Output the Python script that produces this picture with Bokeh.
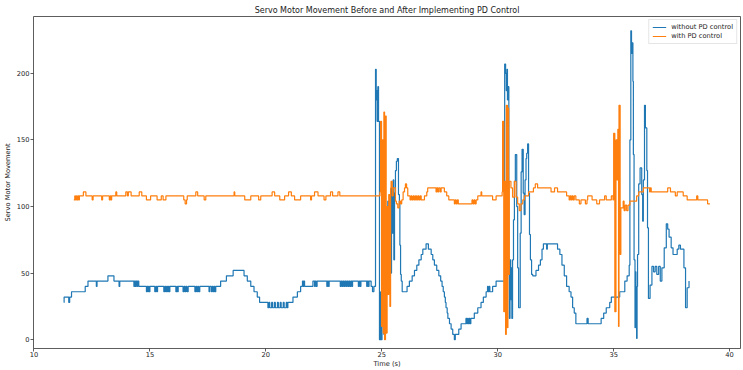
from bokeh.plotting import figure
from bokeh.models import Range1d, FixedTicker
from bokeh.embed import file_html
from bokeh.resources import INLINE

title_text = "Servo Motor Movement Before and After Implementing PD Control"
x_label = "Time (s)"
y_label = "Servo Motor Movement"
series_names = ["without PD control", "with PD control"]
x_ticks = [10, 15, 20, 25, 30, 35, 40]
y_ticks = [0, 50, 100, 150, 200]

# without PD control (time s, servo value)
blue_t = [11.29, 11.30, 11.50, 11.54, 11.62, 12.21, 12.33, 12.69, 12.72, 13.19, 13.45, 13.67, 13.70,
          14.31, 14.34, 14.37, 14.40, 14.44, 14.47, 14.52, 14.85, 14.88, 14.91, 14.94, 14.97, 15.00,
          15.21, 15.25, 15.29, 15.33, 15.60, 15.64, 15.68, 15.72, 15.76, 15.80, 15.83, 15.86,
          16.12, 16.16, 16.19, 16.22, 16.43, 16.47, 16.51, 16.55, 16.60, 16.65, 16.94, 16.98,
          17.02, 17.06, 17.10, 17.15, 17.55, 17.58, 17.65, 17.69, 17.73, 17.77, 17.80, 17.84,
          18.05, 18.30, 18.59, 19.06, 19.20, 19.35, 19.49, 19.63, 19.73, 20.09, 20.13, 20.17,
          20.25, 20.29, 20.37, 20.41, 20.50, 20.54, 20.62, 20.66, 20.75, 20.79, 20.88, 20.92,
          20.95, 21.17, 21.36, 21.50, 21.58, 21.61, 21.64, 21.67, 22.03, 22.10, 22.13, 22.17,
          22.21, 22.63, 22.66, 22.70, 22.73, 23.21, 23.25, 23.29, 23.33, 23.37, 23.41, 23.46,
          23.50, 23.55, 23.59, 23.63, 23.67, 23.71, 23.74, 23.99, 24.03, 24.07, 24.10, 24.35,
          24.38, 24.42, 24.45, 24.54, 24.60, 24.66,
          24.73, 24.76, 24.78, 24.80, 24.83, 24.86, 24.90, 24.92, 24.94, 24.96, 24.98, 25.01,
          25.03, 25.06, 25.09, 25.12, 25.15, 25.18, 25.21, 25.26, 25.30, 25.35, 25.38, 25.42,
          25.45, 25.49, 25.52, 25.55, 25.59, 25.63, 25.67, 25.72, 25.76, 25.78, 25.81, 25.84,
          25.88, 26.09, 26.19, 26.31, 26.41, 26.51, 26.60, 26.70, 26.77, 26.91, 27.01, 27.13,
          27.20, 27.27, 27.37, 27.46, 27.54, 27.60, 27.65, 27.70, 27.74, 27.77, 27.82, 27.85,
          27.92, 27.99, 28.06, 28.13, 28.17, 28.32, 28.42, 28.63, 28.66, 28.70, 28.73, 28.77,
          28.80, 28.84, 28.99, 29.14, 29.28, 29.38, 29.50, 29.56, 29.59, 29.63, 29.66, 29.78,
          29.93,
          30.30, 30.34, 30.37, 30.40, 30.42, 30.45, 30.48, 30.50, 30.53, 30.56, 30.59, 30.61,
          30.64, 30.68, 30.72, 30.76, 30.82, 30.86, 30.90, 30.97, 31.01, 31.05, 31.10, 31.14,
          31.18, 31.22, 31.25, 31.29, 31.33, 31.37, 31.41, 31.46, 31.51, 31.65, 31.76, 31.84,
          31.91, 31.97, 32.11, 32.14, 32.58, 32.68, 32.77, 32.87, 32.97, 33.08, 33.16, 33.23,
          33.30, 33.37, 33.85, 33.90, 34.46, 34.57, 34.68, 34.83, 34.90, 35.26, 35.48, 35.58,
          35.67, 35.70, 35.74, 35.77, 35.80, 35.83, 35.85, 35.88, 35.92, 35.94, 35.96, 35.99,
          36.01, 36.03, 36.08, 36.14, 36.21, 36.25, 36.28, 36.33, 36.37, 36.43, 36.46, 36.50,
          36.57, 36.65, 36.72, 36.79, 36.86, 36.94, 37.01, 37.08, 37.18, 37.27, 37.33, 37.39,
          37.48, 37.56, 37.74, 37.81, 37.88, 38.03, 38.10, 38.17, 38.25]
blue_v = [28, 32, 28, 32, 36, 40, 44, 40, 44, 48, 44, 40, 44,
          40, 44, 40, 44, 40, 44, 40, 36, 40, 36, 40, 36, 40,
          36, 40, 36, 40, 36, 40, 36, 40, 36, 40, 36, 40,
          36, 40, 36, 40, 36, 40, 36, 40, 36, 40, 36, 40,
          36, 40, 36, 40, 36, 40, 36, 40, 36, 40, 36, 40,
          44, 48, 52, 48, 44, 40, 36, 32, 28, 24, 28, 24,
          28, 24, 28, 24, 28, 24, 28, 24, 28, 24, 28, 24,
          28, 32, 36, 40, 44, 40, 44, 40, 44, 40, 44, 40,
          44, 40, 44, 40, 44, 40, 44, 40, 44, 40, 44, 40,
          44, 40, 44, 40, 44, 40, 44, 40, 44, 40, 44, 40,
          44, 40, 44, 40, 36, 40,
          203, 180, 187, 164, 190, 164, 0, 36, 0, 31, 0, 58,
          10, 30, 4, 60, 20, 90, 40, 104, 36, 95, 50, 114,
          80, 120, 60, 110, 127, 134, 136, 109, 102, 71, 49, 44,
          36, 40, 44, 48, 52, 56, 60, 64, 68, 72, 68, 64,
          60, 56, 52, 48, 44, 40, 36, 32, 28, 24, 20, 16,
          12, 8, 4, 0, 4, 8, 12, 16, 12, 16, 12, 16,
          12, 16, 20, 24, 28, 32, 36, 40, 36, 40, 36, 40,
          44,
          207, 200, 187, 203, 180, 190, 60, 16, 60, 30, 54, 16,
          60, 90, 119, 139, 100, 54, 24, 80, 126, 143, 110, 94,
          120, 136, 140, 147, 110, 79, 60, 49, 48, 52, 56, 60,
          68, 72, 68, 72, 68, 64, 56, 48, 40, 36, 32, 24,
          20, 12, 16, 12, 16, 20, 24, 28, 32, 36, 44, 48,
          56, 150, 232, 215, 223, 194, 139, 60, 9, 51, 20, 1,
          40, 64, 117, 129, 109, 89, 120, 176, 159, 127, 84, 31,
          41, 55, 51, 55, 49, 55, 44, 54, 69, 87, 83, 77,
          69, 64, 68, 71, 68, 54, 24, 39, 44]

# with PD control (time s, servo value)
orange_t = [11.72, 11.76, 11.79, 11.83, 11.86, 11.90, 11.93, 11.96, 12.13, 12.24, 12.51, 12.55,
            12.92, 12.96, 13.25, 13.29, 13.32, 13.35, 13.53, 13.57, 13.96, 14.03, 14.07, 14.19,
            14.54, 14.65, 14.85, 15.03, 15.31, 15.49, 15.57, 15.69, 16.46, 16.52, 16.58, 16.61,
            16.98, 17.06, 17.34, 17.41, 18.63, 18.66, 19.09, 19.35, 19.69, 19.78, 20.27, 20.38,
            20.60, 20.81, 20.98, 21.10, 21.24, 21.50, 21.93, 21.97, 22.10, 22.25, 22.51, 22.59,
            22.79, 22.88, 23.11, 23.19, 24.92,
            24.95, 24.99, 25.03, 25.06, 25.09, 25.12, 25.16, 25.19, 25.23, 25.26, 25.30, 25.35,
            25.38, 25.40, 25.45, 25.49, 25.59, 25.63, 25.69, 25.75, 25.81, 25.86, 25.92, 25.98,
            26.02, 26.07, 26.12, 26.22, 26.26, 26.30, 26.35, 26.40, 26.45, 26.50, 26.55, 26.60,
            26.65, 26.70, 26.84, 26.94, 26.98, 27.34, 27.37, 27.42, 27.46, 27.52, 27.56, 27.70,
            27.80, 27.89, 28.13, 28.17, 28.21, 28.26, 28.30, 28.89, 28.93, 28.98, 29.02, 29.07,
            29.14, 29.28, 29.31, 29.78, 29.93, 30.19,
            30.21, 30.26, 30.30, 30.34, 30.37, 30.42, 30.44, 30.47, 30.50, 30.57, 30.64, 30.72,
            30.79, 30.86, 30.93, 31.00, 31.08, 31.15, 31.33, 31.54, 31.62, 31.72, 32.30, 32.45,
            32.58, 32.97, 33.08, 33.12, 33.16, 33.20, 33.25, 33.30, 33.37, 33.52, 33.59, 33.78,
            33.85, 33.88, 34.07, 34.27, 34.39, 34.61, 34.68, 34.90, 34.97,
            35.00, 35.05, 35.10, 35.14, 35.18, 35.21, 35.23, 35.28, 35.31, 35.41, 35.45, 35.50,
            35.56, 35.62, 35.70, 35.99, 36.08, 36.28, 36.55, 36.58, 36.62, 37.33, 37.45, 37.66,
            37.74, 38.00, 38.17, 38.58, 38.63, 39.05, 39.15]
orange_v = [105, 108, 105, 108, 105, 108, 105, 108, 111, 108, 105, 108,
            105, 108, 105, 108, 105, 108, 111, 108, 111, 108, 111, 108,
            111, 108, 105, 108, 105, 108, 105, 108, 105, 102, 105, 108,
            111, 108, 105, 108, 111, 108, 105, 108, 105, 108, 111, 108,
            105, 108, 111, 108, 105, 108, 105, 108, 111, 108, 105, 108,
            111, 108, 111, 108, 111,
            164, 10, 150, 5, 171, 0, 168, 5, 100, 34, 109, 25,
            114, 119, 108, 114, 104, 102, 99, 104, 102, 105, 111, 114,
            117, 114, 108, 105, 108, 105, 108, 105, 108, 105, 108, 105,
            108, 105, 108, 111, 114, 111, 114, 111, 114, 111, 114, 111,
            108, 105, 102, 105, 102, 105, 102, 105, 102, 105, 102, 105,
            108, 111, 108, 105, 108, 111,
            164, 21, 119, 4, 176, 9, 174, 49, 119, 114, 107, 119,
            107, 102, 97, 102, 105, 108, 111, 114, 117, 114, 111, 114,
            111, 108, 105, 108, 105, 108, 105, 108, 105, 102, 105, 102,
            105, 108, 105, 102, 105, 108, 105, 108, 105,
            155, 21, 150, 120, 158, 10, 176, 64, 99, 104, 97, 101,
            97, 101, 104, 108, 111, 114, 111, 114, 111, 114, 111, 108,
            111, 108, 105, 108, 105, 102, 102]

FONT = "DejaVu Sans"
TXT = "#1a1a1a"

p = figure(width=743, height=370, x_range=Range1d(9.98, 40.47), y_range=Range1d(-6.6, 242.7),
           output_backend="svg", toolbar_location=None, title=title_text,
           min_border_left=30, min_border_right=3, min_border_top=16, min_border_bottom=16)
p.background_fill_color = "white"
p.border_fill_color = "white"
p.grid.visible = False
p.outline_line_color = "#333333"
p.outline_line_width = 0.8

p.title.align = "center"
p.title.text_font = FONT
p.title.text_font_size = "8px"
p.title.text_font_style = "normal"
p.title.text_color = TXT
p.title.standoff = 3
p.title.offset = 0

p.step(blue_t, blue_v, mode="after", line_color="#1f77b4", line_width=1.2, legend_label=series_names[0])
p.step(orange_t, orange_v, mode="after", line_color="#ff7f0e", line_width=1.2, legend_label=series_names[1])

p.xaxis.ticker = FixedTicker(ticks=x_ticks)
p.yaxis.ticker = FixedTicker(ticks=y_ticks)
p.xaxis.axis_label = x_label
p.yaxis.axis_label = y_label
for ax in (p.xaxis[0], p.yaxis[0]):
    ax.axis_line_color = None
    ax.major_tick_line_color = "#333333"
    ax.major_tick_line_width = 0.8
    ax.major_tick_in = 0
    ax.major_tick_out = 3
    ax.minor_tick_line_color = None
    ax.major_label_text_font = FONT
    ax.major_label_text_font_size = "6.7px"
    ax.major_label_text_color = TXT
    ax.axis_label_text_font = FONT
    ax.axis_label_text_font_size = "6.7px"
    ax.axis_label_text_font_style = "normal"
    ax.axis_label_text_color = TXT
p.xaxis.major_label_standoff = 0
p.xaxis.axis_label_standoff = 0
p.yaxis.major_label_standoff = 1
p.yaxis.axis_label_standoff = 2

lg = p.legend[0]
lg.location = "top_right"
lg.margin = 3
lg.padding = 3
lg.spacing = 1
lg.glyph_width = 14
lg.glyph_height = 8
lg.label_height = 8
lg.label_standoff = 5
lg.label_text_font = FONT
lg.label_text_font_size = "6.7px"
lg.label_text_color = TXT
lg.border_line_color = "#cccccc"
lg.border_line_width = 0.8
lg.background_fill_alpha = 0.8

open("out.html", "w").write(file_html(p, INLINE))
